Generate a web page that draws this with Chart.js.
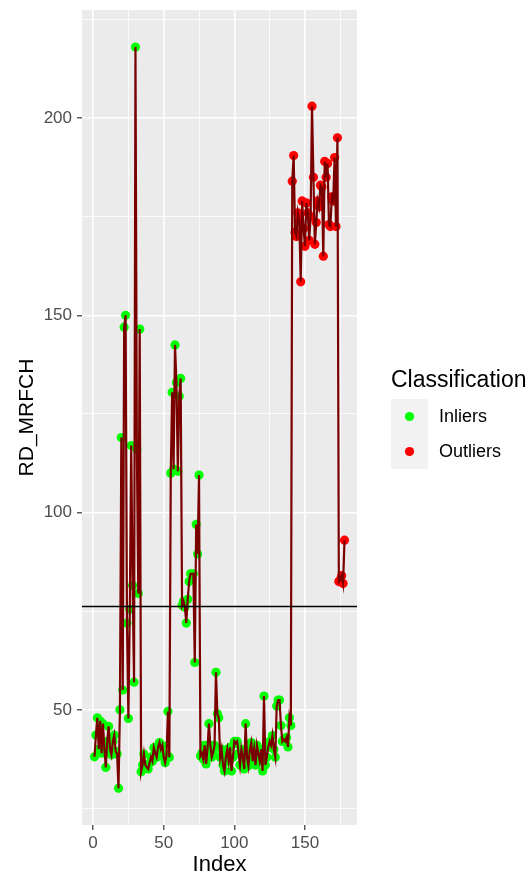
<!DOCTYPE html>
<html>
<head>
<meta charset="utf-8">
<script src="https://cdn.jsdelivr.net/npm/chart.js@4.4.1/dist/chart.umd.min.js"></script>
<style>
  html, body { margin: 0; padding: 0; background: #ffffff; }
  canvas { display: block; }
</style>
</head>
<body>
<canvas id="chart" width="528" height="875"></canvas>
<script>
// RD_MRFCH per index; first block are inliers, second block outliers
const inlierValues = [
  38.1, 43.6, 48, 40, 47.2, 39, 46.5, 40, 35.4, 42,
  45.8, 40, 38.6, 42, 43.6, 39.5, 38.8, 30.1, 50, 119,
  55, 147, 150, 72, 47.8, 75.5, 117, 81.5, 57, 218,
  116, 79.5, 146.5, 34.3, 36, 38.8, 36, 35.5, 35, 36.5,
  38, 37, 40.4, 39, 38, 40.5, 41.7, 40, 41, 38,
  36.6, 38.5, 49.6, 38, 110, 130.5, 111, 142.5, 133, 110.5,
  129.5, 134, 76.5, 77.5, 76, 72, 78, 82.5, 84.5, 84.5,
  84.5, 62, 97, 89.5, 109.5, 38.3, 39, 37.5, 41, 36.3,
  40, 46.5, 41, 38, 39.2, 41, 59.5, 49, 48, 38,
  40, 36, 34.5, 38, 40, 37, 40.5, 34.5, 38, 42,
  41.5, 42, 39, 36, 40, 38, 35, 46.5, 38, 35.8,
  40, 41.7, 37, 40, 36, 41, 39, 37, 40, 34.5,
  53.5, 36, 38, 40.5, 42, 41, 43.5, 40, 38, 51,
  52.5, 52.5, 46, 42, 42.5, 42, 43, 40.6, 48, 46
];
const outlierValues = [
  184, 190.5, 171, 170, 176, 174, 158.5, 179, 172, 167.5,
  178.5, 176, 169, 175, 203, 185, 168, 173.5, 179, 177.5,
  183, 182.5, 165, 189, 185, 188.5, 173, 172.5, 180, 179,
  190, 172.5, 195, 82.5, 83, 84, 82, 93
];
const threshold = 76.2;
const xTicks = [0, 25, 50, 75, 100, 125, 150, 175];
const yTicks = [25, 50, 75, 100, 125, 150, 175, 200, 225];
const legendLabels = ['Inliers', 'Outliers'];
const classColors = ['#00ff00', '#ff0000'];

const FONT = '"Liberation Sans", Arial, sans-serif';
const PT_R = 4.6;

const inlierPts = inlierValues.map((v, i) => ({ x: i + 1, y: v }));
const outlierPts = outlierValues.map((v, i) => ({ x: inlierValues.length + i + 1, y: v }));
const allPts = inlierPts.concat(outlierPts);

const isMajor = v => v % 50 === 0;

const ggPlugin = {
  id: 'ggPlugin',
  beforeDraw(chart) {
    const { ctx, chartArea: a } = chart;
    ctx.save();
    ctx.fillStyle = '#ebebeb';
    ctx.fillRect(a.left, a.top, a.right - a.left, a.bottom - a.top);
    ctx.restore();
  },
  afterDatasetsDraw(chart) {
    const { ctx, chartArea: a, scales } = chart;
    const y = scales.y.getPixelForValue(threshold);
    ctx.save();
    ctx.strokeStyle = '#000000';
    ctx.lineWidth = 1.6;
    ctx.beginPath();
    ctx.moveTo(a.left, y);
    ctx.lineTo(a.right, y);
    ctx.stroke();
    ctx.restore();
  },
  afterDraw(chart) {
    const { ctx, chartArea: a } = chart;
    ctx.save();
    ctx.fillStyle = '#000000';
    // axis titles
    ctx.font = '22px ' + FONT;
    ctx.textAlign = 'center';
    ctx.textBaseline = 'alphabetic';
    ctx.fillText('Index', (a.left + a.right) / 2, 871);
    ctx.save();
    ctx.translate(33, (a.top + a.bottom) / 2);
    ctx.rotate(-Math.PI / 2);
    ctx.font = '21px ' + FONT;
    ctx.fillText('RD_MRFCH', 0, 0);
    ctx.restore();

    // legend
    ctx.textAlign = 'left';
    ctx.font = '23px ' + FONT;
    ctx.fillText('Classification', 391, 387);
    ctx.fillStyle = '#f2f2f2';
    ctx.fillRect(391, 399, 37, 70);
    ctx.font = '18px ' + FONT;
    ctx.textBaseline = 'middle';
    legendLabels.forEach((lab, i) => {
      const cy = 416.5 + i * 35;
      ctx.fillStyle = classColors[i];
      ctx.beginPath();
      ctx.arc(409.5, cy, PT_R, 0, Math.PI * 2);
      ctx.fill();
      ctx.fillStyle = '#000000';
      ctx.fillText(lab, 439, cy + 1);
    });
    ctx.restore();
  }
};

const gridOpts = {
  color: 'rgba(255,255,255,1)',
  lineWidth: c => (c.tick && isMajor(c.tick.value)) ? 1.6 : 0.8,
  tickColor: c => (c.tick && isMajor(c.tick.value)) ? '#333333' : 'rgba(0,0,0,0)',
  tickWidth: 1.2,
  tickLength: 5,
  drawTicks: true
};

new Chart(document.getElementById('chart'), {
  type: 'scatter',
  data: {
    datasets: [
      {
        label: 'line',
        data: allPts,
        showLine: true,
        borderColor: '#7a0000',
        borderWidth: 2.2,
        pointRadius: 0,
        order: 0
      },
      {
        label: 'Inliers',
        data: inlierPts,
        backgroundColor: classColors[0],
        borderWidth: 0,
        pointRadius: PT_R,
        order: 1
      },
      {
        label: 'Outliers',
        data: outlierPts,
        backgroundColor: classColors[1],
        borderWidth: 0,
        pointRadius: PT_R,
        order: 1
      }
    ]
  },
  options: {
    responsive: false,
    animation: false,
    layout: { padding: { left: 0, right: 171, top: 10, bottom: 0 } },
    plugins: { legend: { display: false }, tooltip: { enabled: false } },
    scales: {
      x: {
        type: 'linear',
        min: -7.85,
        max: 186.85,
        afterBuildTicks: s => { s.ticks = xTicks.map(v => ({ value: v })); },
        afterFit: s => { s.height = 50; s.paddingLeft = 0; s.paddingRight = 0; },
        grid: gridOpts,
        border: { display: false },
        ticks: {
          autoSkip: false,
          maxRotation: 0,
          padding: 3,
          color: '#4d4d4d',
          font: { family: FONT, size: 17 },
          callback: v => isMajor(v) ? String(v) : ''
        }
      },
      y: {
        type: 'linear',
        min: 20.81,
        max: 227.39,
        afterBuildTicks: s => { s.ticks = yTicks.map(v => ({ value: v })); },
        afterFit: s => { s.width = 82; s.paddingTop = 0; s.paddingBottom = 0; },
        grid: gridOpts,
        border: { display: false },
        ticks: {
          autoSkip: false,
          padding: 5,
          color: '#4d4d4d',
          font: { family: FONT, size: 17 },
          callback: v => isMajor(v) ? String(v) : ''
        }
      }
    }
  },
  plugins: [ggPlugin]
});
</script>
</body>
</html>
